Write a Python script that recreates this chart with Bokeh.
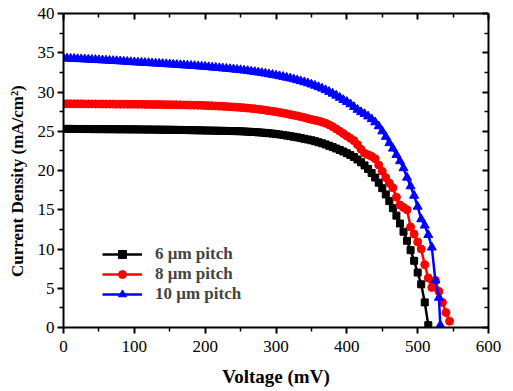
from bokeh.plotting import figure
from bokeh.models import LinearAxis, Range1d, FixedTicker, CustomJSTickFormatter
from bokeh.embed import file_html
from bokeh.resources import INLINE

# ---------------- data ----------------
v_6um = list(range(0, 520, 5))
j_6um = [25.30, 25.30, 25.30, 25.29, 25.29, 25.29, 25.28, 25.28, 25.28, 25.27,
         25.27, 25.27, 25.26, 25.26, 25.26, 25.25, 25.25, 25.25, 25.24, 25.24,
         25.24, 25.23, 25.23, 25.22, 25.22, 25.21, 25.21, 25.20, 25.20, 25.19,
         25.19, 25.18, 25.17, 25.17, 25.16, 25.15, 25.14, 25.13, 25.12, 25.11,
         25.10, 25.09, 25.08, 25.07, 25.06, 25.05, 25.04, 25.03, 25.02, 25.01,
         25.00, 24.97, 24.95, 24.92, 24.90, 24.86, 24.83, 24.79, 24.75, 24.70,
         24.65, 24.59, 24.52, 24.45, 24.38, 24.30, 24.22, 24.13, 24.04, 23.95,
         23.85, 23.73, 23.60, 23.47, 23.32, 23.15, 22.98, 22.80, 22.62, 22.42,
         22.20, 21.97, 21.72, 21.40, 21.05, 20.65, 20.20, 19.68, 19.10, 18.45,
         17.75, 16.95, 16.10, 15.20, 14.25, 13.25, 12.20, 11.05, 9.85, 8.50,
         7.00, 5.50, 3.20, 0.30]

v_8um = list(range(0, 550, 5))
j_8um = [28.50, 28.50, 28.50, 28.49, 28.49, 28.49, 28.48, 28.48, 28.48, 28.47,
         28.47, 28.47, 28.46, 28.46, 28.46, 28.45, 28.45, 28.45, 28.44, 28.44,
         28.44, 28.43, 28.43, 28.42, 28.42, 28.41, 28.41, 28.40, 28.40, 28.39,
         28.38, 28.38, 28.37, 28.36, 28.35, 28.34, 28.33, 28.32, 28.31, 28.30,
         28.28, 28.26, 28.24, 28.22, 28.20, 28.18, 28.15, 28.12, 28.09, 28.06,
         28.03, 27.99, 27.95, 27.91, 27.86, 27.81, 27.75, 27.69, 27.62, 27.55,
         27.48, 27.40, 27.32, 27.23, 27.14, 27.05, 26.95, 26.85, 26.74, 26.62,
         26.50, 26.40, 26.30, 26.18, 26.02, 25.82, 25.58, 25.30, 25.00, 24.70,
         24.40, 24.10, 23.80, 23.30, 22.70, 22.20, 22.00, 21.80, 21.50, 20.70,
         19.90, 19.10, 18.40, 17.80, 16.60, 15.60, 15.30, 15.00, 12.80, 11.90,
         10.90, 10.00, 8.00, 6.30, 5.10, 6.00, 4.60, 3.20, 1.90, 0.80]

v_10um = list(range(0, 535, 5)) + [532]
j_10um = [34.30, 34.28, 34.26, 34.24, 34.21, 34.19, 34.17, 34.14, 34.12, 34.10,
          34.07, 34.05, 34.02, 34.00, 33.97, 33.95, 33.92, 33.89, 33.86, 33.83,
          33.80, 33.77, 33.75, 33.72, 33.70, 33.67, 33.64, 33.62, 33.59, 33.56,
          33.53, 33.50, 33.47, 33.44, 33.41, 33.38, 33.35, 33.32, 33.29, 33.25,
          33.22, 33.18, 33.14, 33.10, 33.06, 33.02, 32.98, 32.94, 32.89, 32.84,
          32.80, 32.74, 32.69, 32.63, 32.57, 32.50, 32.43, 32.36, 32.28, 32.20,
          32.12, 32.03, 31.94, 31.84, 31.74, 31.63, 31.51, 31.39, 31.26, 31.12,
          30.97, 30.81, 30.64, 30.45, 30.25, 30.03, 29.80, 29.55, 29.28, 29.00,
          28.75, 28.45, 28.10, 27.75, 27.45, 27.20, 26.90, 26.55, 26.15, 25.65,
          25.00, 24.30, 23.50, 22.80, 22.00, 21.20, 20.30, 19.10, 18.00, 16.80,
          15.40, 13.80, 13.00, 11.80, 10.20, 6.00, 3.80, 0.30]

series_labels = ["6 \u03bcm pitch", "8 \u03bcm pitch", "10 \u03bcm pitch"]
series_colors = ["#000000", "#ff0000", "#0000ff"]
series_markers = ["square", "circle", "triangle"]

x_ticks = [0, 100, 200, 300, 400, 500, 600]
x_minor = [50, 150, 250, 350, 450, 550]
y_ticks = [0, 5, 10, 15, 20, 25, 30, 35, 40]
y_minor = [2.5, 7.5, 12.5, 17.5, 22.5, 27.5, 32.5, 37.5]

FONT = "Liberation Serif"

p = figure(width=510, height=390, output_backend="svg", toolbar_location=None,
           x_range=Range1d(0, 600), y_range=Range1d(0, 40),
           min_border_left=63, min_border_right=22, min_border_top=13,
           min_border_bottom=63)
p.xgrid.visible = False
p.ygrid.visible = False
p.outline_line_color = None
p.background_fill_color = "white"
p.border_fill_color = "white"

marker_sizes = [7, 8, 9]
for vx, jy, lab, col, mk, ms in zip([v_6um, v_8um, v_10um], [j_6um, j_8um, j_10um],
                                    series_labels, series_colors, series_markers,
                                    marker_sizes):
    p.line(vx, jy, line_color=col, line_width=2.5, legend_label=lab)
    p.scatter(vx, jy, marker=mk, size=ms, fill_color=col, line_color=col,
              legend_label=lab)

def style_axis(ax, inward=False):
    ax.axis_line_width = 2
    ax.axis_line_color = "black"
    ax.major_tick_line_width = 2
    ax.minor_tick_line_width = 1.5
    if inward:
        ax.major_tick_in = 6
        ax.major_tick_out = 0
        ax.minor_tick_in = 4
        ax.minor_tick_out = 0
    else:
        ax.major_tick_in = 0
        ax.major_tick_out = 6
        ax.minor_tick_in = 0
        ax.minor_tick_out = 4
    ax.major_label_text_font = FONT
    ax.major_label_text_font_size = "17px"
    ax.major_label_text_color = "black"
    ax.axis_label_text_font = FONT
    ax.axis_label_text_font_style = "bold"
    ax.axis_label_text_font_size = "19px"
    ax.axis_label_text_color = "black"

xa = p.xaxis[0]
xa.ticker = FixedTicker(ticks=x_ticks, minor_ticks=x_minor)
xa.axis_label = "Voltage (mV)"
style_axis(xa)
xa.major_label_standoff = 7
xa.axis_label_standoff = 11

ya = p.yaxis[0]
ya.ticker = FixedTicker(ticks=y_ticks, minor_ticks=y_minor)
# trailing no-break spaces shift the centred title slightly downward, as in the original
ya.axis_label = "Current Density (mA/cm\u00b2)" + "\u00a0" * 5
style_axis(ya)
ya.axis_label_text_font_size = "17px"
ya.major_label_standoff = 3
ya.axis_label_standoff = 8

blank = CustomJSTickFormatter(code="return '';")
top = LinearAxis(ticker=FixedTicker(ticks=x_ticks, minor_ticks=x_minor), formatter=blank)
style_axis(top, inward=True)
top.major_label_standoff = 0
p.add_layout(top, "above")
right = LinearAxis(ticker=FixedTicker(ticks=y_ticks, minor_ticks=y_minor), formatter=blank)
style_axis(right, inward=True)
right.major_label_standoff = 0
p.add_layout(right, "right")

lg = p.legend[0]
lg.location = (39, 23)
lg.border_line_color = None
lg.background_fill_alpha = 0
lg.label_text_font = FONT
lg.label_text_font_style = "bold"
lg.label_text_font_size = "17px"
lg.glyph_width = 40
lg.glyph_height = 20
lg.label_height = 20
lg.spacing = 0
lg.padding = 0
lg.margin = 0
lg.label_standoff = 13

open("out.html", "w").write(file_html(p, INLINE))
